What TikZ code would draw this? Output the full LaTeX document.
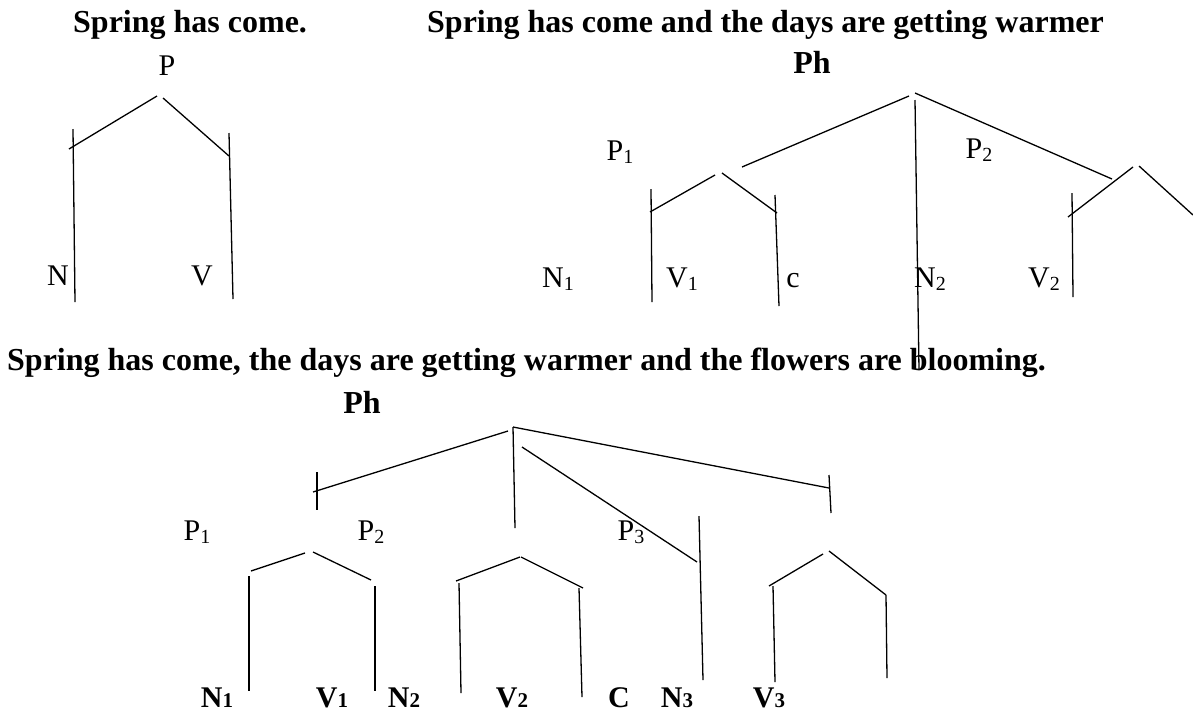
\documentclass[tikz,border=0pt]{standalone}
\usepackage{fontspec}
\setmainfont{Liberation Serif}
\newcommand{\lsub}[1]{\raisebox{-3pt}{\fontsize{20}{20}\selectfont #1}}
\newcommand{\bsub}[1]{{\fontsize{21}{21}\selectfont\bfseries #1}}
\tikzset{
  title/.style={inner sep=0pt, anchor=base west, font=\fontsize{32}{38}\selectfont\bfseries},
  lab/.style={inner sep=0pt, anchor=base, font=\fontsize{30}{36}\selectfont},
  blab/.style={inner sep=0pt, anchor=base, font=\fontsize{30}{36}\selectfont\bfseries},
  bhead/.style={inner sep=0pt, anchor=base, font=\fontsize{32}{38}\selectfont\bfseries},
  br/.style={line width=1.3pt, black}
}
\begin{document}
\begin{tikzpicture}[x=1pt,y=-1pt]
\useasboundingbox (0,0) rectangle (1193,713);

% ---------- titles ----------
\node[title] (t1) at (73,32) {Spring has come.};
\node[title] (t2) at (427,32) {Spring has come and the days are getting warmer};
\node[title] (t3) at (7,370) {Spring has come, the days are getting warmer and the flowers are blooming.};

% ---------- tree 1 ----------
\node[lab] (p) at (167,75) {P};
\node[lab] (n) at (58,285) {N};
\node[lab] (v) at (202,285) {V};
\draw[br] (157,96) -- (69,149);
\draw[br] (163,98) -- (229,156);
\draw[br] (73,129) -- (75,302);
\draw[br] (229,133) -- (233,299);

% ---------- tree 2 ----------
\node[bhead] (ph2) at (812,73) {Ph};
\node[lab] (p21) at (620,160) {P\lsub{1}};
\node[lab] (p22) at (979,158) {P\lsub{2}};
\node[lab] (n21) at (558,287) {N\lsub{1}};
\node[lab] (v21) at (682,287) {V\lsub{1}};
\node[lab] (c2) at (793,287) {c};
\node[lab] (n22) at (930,287) {N\lsub{2}};
\node[lab] (v22) at (1044,287) {V\lsub{2}};
\draw[br] (909,96) -- (742,167);
\draw[br] (915,93) -- (1112,179);
\draw[br] (915,100) -- (919,370);
\draw[br] (715,175) -- (650,212);
\draw[br] (722,173) -- (777,213);
\draw[br] (651,189) -- (652,302);
\draw[br] (775,195) -- (779,306);
\draw[br] (1133,167) -- (1068,217);
\draw[br] (1139,166) -- (1193,215);
\draw[br] (1072,193) -- (1073,297);

% ---------- tree 3 ----------
\node[bhead] (ph3) at (362,413) {Ph};
\node[lab] (p31) at (197,540) {P\lsub{1}};
\node[lab] (p32) at (371,540) {P\lsub{2}};
\node[lab] (p33) at (631,540) {P\lsub{3}};
\node[blab] (n31) at (217,707) {N\bsub{1}};
\node[blab] (v31) at (332,707) {V\bsub{1}};
\node[blab] (n32) at (404,707) {N\bsub{2}};
\node[blab] (v32) at (512,707) {V\bsub{2}};
\node[blab] (c3) at (619,707) {C};
\node[blab] (n33) at (677,707) {N\bsub{3}};
\node[blab] (v33) at (769,707) {V\bsub{3}};

\draw[br] (508,431) -- (313,492);
\draw[br] (317,472) -- (317,510);
\draw[br] (513,427) -- (515,528);
\draw[br] (513,427) -- (829,488);
\draw[br] (829,475) -- (831,513);
\draw[br] (522,447) -- (697,562);
\draw[br] (699,516) -- (703,680);

\draw[br] (305,553) -- (251,571);
\draw[br] (313,552) -- (371,580);
\draw[br] (249,576) -- (249,691);
\draw[br] (375,586) -- (375,691);

\draw[br] (520,557) -- (456,581);
\draw[br] (521,557) -- (583,588);
\draw[br] (459,583) -- (461,693);
\draw[br] (579,588) -- (582,697);

\draw[br] (823,554) -- (769,586);
\draw[br] (829,551) -- (886,595);
\draw[br] (773,586) -- (775,682);
\draw[br] (886,595) -- (887,678);
\end{tikzpicture}
\end{document}
